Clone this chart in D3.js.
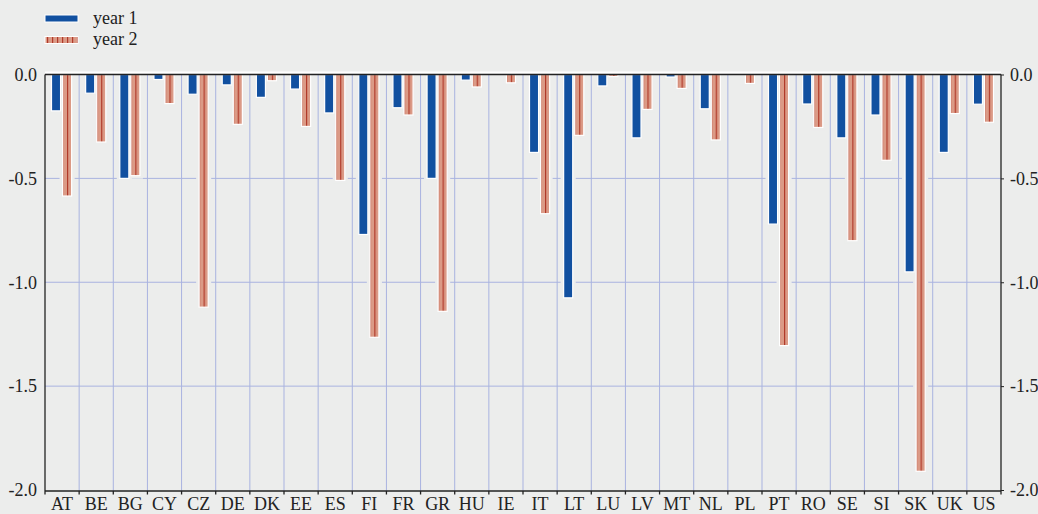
<!DOCTYPE html>
<html>
<head>
<meta charset="utf-8">
<script src="https://cdn.jsdelivr.net/npm/d3@7/dist/d3.min.js"></script>
<style>
  body { margin: 0; background: #ecedec; }
  svg { display: block; font-family: "Liberation Serif", "DejaVu Serif", serif; }
</style>
</head>
<body>
<div id="chart"></div>
<script>
var countries = ["AT","BE","BG","CY","CZ","DE","DK","EE","ES","FI","FR","GR","HU","IE",
                 "IT","LT","LU","LV","MT","NL","PL","PT","RO","SE","SI","SK","UK","US"];
var year1 = [-0.175,-0.09,-0.50,-0.024,-0.095,-0.05,-0.11,-0.07,-0.185,-0.77,-0.16,-0.50,-0.027,0,
             -0.375,-1.075,-0.055,-0.305,-0.012,-0.165,0,-0.72,-0.142,-0.305,-0.195,-0.95,-0.375,-0.143];
var year2 = [-0.585,-0.325,-0.487,-0.14,-1.12,-0.24,-0.03,-0.25,-0.51,-1.265,-0.195,-1.14,-0.06,-0.04,
             -0.67,-0.293,-0.01,-0.168,-0.067,-0.315,-0.043,-1.305,-0.255,-0.80,-0.413,-1.91,-0.188,-0.23];
var seriesNames = ["year 1", "year 2"];
var yTicks = [0, -0.5, -1.0, -1.5, -2.0];

var W = 1038, H = 514;
var margin = { top: 74.5, right: 37, bottom: 24, left: 45 };
var bg = "#ecedec", blue = "#1150a0", salmon = "#db9a86", stripe = "#b03a2a", grid = "#a9b3e0";
var fs = 18;

var svg = d3.select("#chart").append("svg")
   .attr("width", W)
   .attr("height", H);

var defs = svg.append("defs");
var pat = defs.append("pattern")
   .attr("id", "hatch")
   .attr("patternUnits", "userSpaceOnUse")
   .attr("width", 5)
   .attr("height", 10);
pat.append("rect").attr("width", 5).attr("height", 10).attr("fill", salmon);
pat.append("rect").attr("x", 2).attr("width", 1.2).attr("height", 10).attr("fill", stripe);

var xScale = d3.scaleBand()
   .domain(countries)
   .range([margin.left, W - margin.right]);
var xInner = d3.scaleBand()
   .domain(seriesNames)
   .range([6.5, xScale.bandwidth() - 7.5])
   .paddingInner(0.18);
var yScale = d3.scaleLinear()
   .domain([-2, 0])
   .range([H - margin.bottom, margin.top]);

// grid
var gridG = svg.append("g");
gridG.selectAll(".hgrid")
   .data(yTicks.filter(function(d) { return d !== 0 && d !== -2; }))
   .enter().append("line")
   .attr("x1", margin.left).attr("x2", W - margin.right)
   .attr("y1", function(d) { return yScale(d); })
   .attr("y2", function(d) { return yScale(d); })
   .attr("stroke", grid).attr("stroke-width", 1);
gridG.selectAll(".vgrid")
   .data(countries.slice(1))
   .enter().append("line")
   .attr("x1", function(d) { return xScale(d); })
   .attr("x2", function(d) { return xScale(d); })
   .attr("y1", margin.top).attr("y2", H - margin.bottom + 1)
   .attr("stroke", grid).attr("stroke-width", 1);

// bars
var rows = countries.map(function(c, i) {
  return { c: c, vals: [{ s: "year 1", v: year1[i] }, { s: "year 2", v: year2[i] }] };
});
var groups = svg.selectAll(".grp")
   .data(rows)
   .enter().append("g")
   .attr("transform", function(d) { return "translate(" + xScale(d.c) + ",0)"; });

groups.selectAll(".halo")
   .data(function(d) { return d.vals.filter(function(e) { return e.v < 0; }); })
   .enter().append("rect")
   .attr("x", function(d) { return xInner(d.s); })
   .attr("width", xInner.bandwidth())
   .attr("y", yScale(0))
   .attr("height", function(d) { return yScale(d.v) - yScale(0); })
   .attr("fill", "none")
   .attr("stroke", bg)
   .attr("stroke-width", 6);

groups.selectAll(".bar")
   .data(function(d) { return d.vals.filter(function(e) { return e.v < 0; }); })
   .enter().append("rect")
   .attr("x", function(d) { return xInner(d.s); })
   .attr("width", xInner.bandwidth())
   .attr("y", yScale(0))
   .attr("height", function(d) { return yScale(d.v) - yScale(0); })
   .attr("fill", function(d) { return d.s === "year 1" ? blue : "url(#hatch)"; })
   .attr("stroke", "#ffffff")
   .attr("stroke-width", 1.2);

// zero line with white line above
svg.append("line")
   .attr("x1", margin.left).attr("x2", W - margin.right)
   .attr("y1", yScale(0) - 2).attr("y2", yScale(0) - 2)
   .attr("stroke", "#ffffff").attr("stroke-width", 2);
svg.append("line")
   .attr("x1", margin.left).attr("x2", W - margin.right)
   .attr("y1", yScale(0)).attr("y2", yScale(0))
   .attr("stroke", "#222").attr("stroke-width", 1.3);

// axes
var yAxisL = d3.axisLeft(yScale).tickValues(yTicks).tickSize(0).tickPadding(8)
   .tickFormat(d3.format(".1f"));
var yAxisR = d3.axisRight(yScale).tickValues(yTicks).tickSize(3).tickPadding(6)
   .tickFormat(d3.format(".1f"));
var gl = svg.append("g")
   .attr("transform", "translate(" + margin.left + ",0)")
   .call(yAxisL);
var gr = svg.append("g")
   .attr("transform", "translate(" + (W - margin.right) + ",0)")
   .call(yAxisR);
[gl, gr].forEach(function(g) {
  g.select(".domain").attr("stroke", "#222").attr("stroke-width", 1.3)
   .attr("d", "M0," + yScale(0) + "V" + (H - margin.bottom + 1));
  g.selectAll(".tick line").attr("stroke", "#222");
  g.selectAll(".tick text")
   .attr("font-size", fs)
   .attr("fill", "#222")
   .style("font-family", "Liberation Serif, serif")
   .text(function(d) { return d3.format(".1f")(d).replace("−", "-"); });
});

// bottom bracket axis
var bottomY = H - margin.bottom + 1;
var bx = svg.append("g");
bx.append("line")
   .attr("x1", margin.left).attr("x2", W - margin.right)
   .attr("y1", bottomY).attr("y2", bottomY)
   .attr("stroke", "#222").attr("stroke-width", 1.3);
bx.selectAll(".tk")
   .data(countries.concat(["end"]))
   .enter().append("line")
   .attr("x1", function(d, i) { return margin.left + i * xScale.step(); })
   .attr("x2", function(d, i) { return margin.left + i * xScale.step(); })
   .attr("y1", bottomY).attr("y2", bottomY + 3.5)
   .attr("stroke", "#222").attr("stroke-width", 1.3);
bx.selectAll(".lbl")
   .data(countries)
   .enter().append("text")
   .attr("x", function(d) { return xScale(d) + xScale.bandwidth() / 2; })
   .attr("y", 509.5)
   .attr("text-anchor", "middle")
   .attr("font-size", fs)
   .attr("fill", "#222")
   .text(function(d) { return d; });

// legend
var leg = svg.append("g");
leg.selectAll("rect")
   .data(seriesNames)
   .enter().append("rect")
   .attr("x", 45)
   .attr("y", function(d, i) { return 15 + i * 21.5; })
   .attr("width", 33)
   .attr("height", 7)
   .attr("fill", function(d, i) { return i === 0 ? blue : "url(#hatch)"; })
   .attr("stroke", "#ffffff").attr("stroke-width", 1);
leg.selectAll("text")
   .data(seriesNames)
   .enter().append("text")
   .attr("x", 93)
   .attr("y", function(d, i) { return 23.5 + i * 21.5; })
   .attr("font-size", fs)
   .attr("fill", "#222")
   .text(function(d) { return d; });
</script>
</body>
</html>
